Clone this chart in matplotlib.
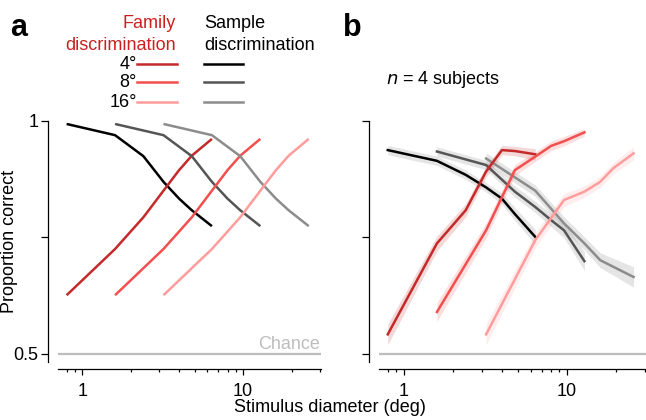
import numpy as np
import matplotlib
matplotlib.use('Agg')
import matplotlib.pyplot as plt
from matplotlib.lines import Line2D
from matplotlib.ticker import LogLocator, NullFormatter, FixedLocator, FixedFormatter

plt.rcParams['font.family'] = ['Liberation Sans', 'DejaVu Sans']
plt.rcParams['font.size'] = 13

# stimulus diameters (deg) for the 4, 8 and 16 deg conditions
diam_4 = [0.8, 1.6, 2.4, 3.2, 4.0, 4.8, 6.4]
diam_8 = [1.6, 3.2, 4.8, 6.4, 8.0, 9.6, 12.8]
diam_16 = [3.2, 6.4, 9.6, 12.8, 16.0, 19.2, 25.6]

# panel a: model (same curve shape for each size)
model_family = [0.626, 0.725, 0.793, 0.850, 0.894, 0.925, 0.961]
model_sample = [0.993, 0.969, 0.924, 0.869, 0.833, 0.808, 0.774]

# panel b: human subjects, mean and sem
human_family_4 = [0.542, 0.737, 0.808, 0.891, 0.937, 0.935, 0.928]
human_family_8 = [0.590, 0.765, 0.894, 0.923, 0.946, 0.956, 0.975]
human_family_16 = [0.542, 0.744, 0.830, 0.848, 0.869, 0.898, 0.930]
human_sample_4 = [0.937, 0.914, 0.884, 0.857, 0.833, 0.800, 0.751]
human_sample_8 = [0.934, 0.905, 0.848, 0.815, 0.787, 0.765, 0.699]
human_sample_16 = [0.919, 0.850, 0.780, 0.737, 0.701, 0.687, 0.665]

sem_family_4 = [0.022, 0.016, 0.014, 0.012, 0.010, 0.010, 0.012]
sem_family_8 = [0.020, 0.016, 0.012, 0.010, 0.010, 0.010, 0.008]
sem_family_16 = [0.022, 0.016, 0.014, 0.012, 0.012, 0.012, 0.014]
sem_sample_4 = [0.010, 0.010, 0.010, 0.010, 0.012, 0.014, 0.016]
sem_sample_8 = [0.010, 0.010, 0.012, 0.012, 0.014, 0.016, 0.020]
sem_sample_16 = [0.012, 0.012, 0.014, 0.014, 0.016, 0.018, 0.022]

family_colors = ['#c42a2a', '#f24f4f', '#ff9c9c']
sample_colors = ['#000000', '#555555', '#8c8c8c']
size_labels = ['4°', '8°', '16°']

fig = plt.figure(figsize=(6.46, 4.20), dpi=100)
W, H = 646.0, 420.0
ax_a = fig.add_axes([58.3 / W, 1 - 362 / H, 262.7 / W, 241.3 / H])
ax_b = fig.add_axes([379.3 / W, 1 - 362 / H, 266.7 / W, 241.3 / H])

for ax in (ax_a, ax_b):
    ax.set_xscale('log')
    ax.set_xlim(0.71, 30.5)
    ax.set_ylim(0.4828, 1.0)
    ax.axhline(0.5, color='#bdbdbd', lw=1.6, zorder=1)
    for s in ('top', 'right'):
        ax.spines[s].set_visible(False)
    ax.spines['left'].set_position(('outward', 7.2))
    ax.spines['bottom'].set_position(('outward', 5))
    ax.spines['left'].set_linewidth(0.9)
    ax.spines['bottom'].set_linewidth(0.9)
    ax.xaxis.set_major_locator(FixedLocator([1, 10]))
    ax.xaxis.set_major_formatter(FixedFormatter(['1', '10']))
    ax.xaxis.set_minor_locator(LogLocator(base=10, subs=np.arange(2, 10)))
    ax.xaxis.set_minor_formatter(NullFormatter())
    ax.set_yticks([0.5, 0.75, 1.0])
    ax.tick_params(axis='x', which='major', length=4, width=0.9, labelsize=13, pad=6)
    ax.tick_params(axis='x', which='minor', length=2.3, width=0.9)
    ax.tick_params(axis='y', which='major', length=5, width=0.9, labelsize=13, pad=2)

ax_a.set_yticklabels(['0.5', '', '1'])
ax_b.set_yticklabels(['', '', ''])

# panel a: model curves
diams = [diam_4, diam_8, diam_16]
for d, fc, sc in zip(diams, family_colors, sample_colors):
    ax_a.plot(d, model_sample, color=sc, lw=1.8, solid_capstyle='butt', zorder=3)
    ax_a.plot(d, model_family, color=fc, lw=1.8, solid_capstyle='butt', zorder=3)

ax_a.text(30.2, 0.503, 'Chance', color='#bdbdbd', ha='right', va='bottom', fontsize=13)
ax_a.set_ylabel('Proportion correct', fontsize=13)
ax_a.yaxis.set_label_coords(-0.153, 0.5)

# panel b: human data with sem bands
hum_family = [human_family_4, human_family_8, human_family_16]
hum_sample = [human_sample_4, human_sample_8, human_sample_16]
sem_fam = [sem_family_4, sem_family_8, sem_family_16]
sem_sam = [sem_sample_4, sem_sample_8, sem_sample_16]
for d, m, e, c in zip(diams, hum_sample, sem_sam, sample_colors):
    m, e = np.array(m), np.array(e)
    ax_b.fill_between(d, m - e, m + e, color='#9a9a9a', alpha=0.25, lw=0, zorder=2)
    ax_b.plot(d, m, color=c, lw=1.8, zorder=3)
for d, m, e, c in zip(diams, hum_family, sem_fam, family_colors):
    m, e = np.array(m), np.array(e)
    ax_b.fill_between(d, m - e, m + e, color=c, alpha=0.18, lw=0, zorder=2)
    ax_b.plot(d, m, color=c, lw=1.8, zorder=3)

fig.text(386 / W, 1 - 80 / H, r'$\it{n}$ = 4 subjects', fontsize=13, va='center', ha='left')

fig.text(330 / W, 1 - 408 / H, 'Stimulus diameter (deg)', fontsize=13, ha='center', va='center')

# panel letters
fig.text(10 / W, 1 - 36 / H, 'a', fontsize=22, fontweight='bold', ha='left', va='baseline')
fig.text(343 / W, 1 - 36 / H, 'b', fontsize=22, fontweight='bold', ha='left', va='baseline')

# legend
red_text = '#cc2020'
fig.text(176 / W, 1 - 28.5 / H, 'Family', color=red_text, ha='right', va='baseline', fontsize=13)
fig.text(176 / W, 1 - 50 / H, 'discrimination', color=red_text, ha='right', va='baseline', fontsize=13)
fig.text(204 / W, 1 - 28.5 / H, 'Sample', color='black', ha='left', va='baseline', fontsize=13)
fig.text(204 / W, 1 - 50 / H, 'discrimination', color='black', ha='left', va='baseline', fontsize=13)
row_y = [63.5, 81.5, 101.5]
for yy, lab, fc, sc in zip(row_y, size_labels, family_colors, sample_colors):
    fig.text(137 / W, 1 - (yy + 1) / H, lab, ha='right', va='center', fontsize=13)
    fig.add_artist(Line2D([137 / W, 177 / W], [1 - yy / H, 1 - yy / H], color=fc, lw=1.8))
    fig.add_artist(Line2D([204 / W, 243 / W], [1 - yy / H, 1 - yy / H], color=sc, lw=1.8))

fig.savefig('out.png', dpi=100)
